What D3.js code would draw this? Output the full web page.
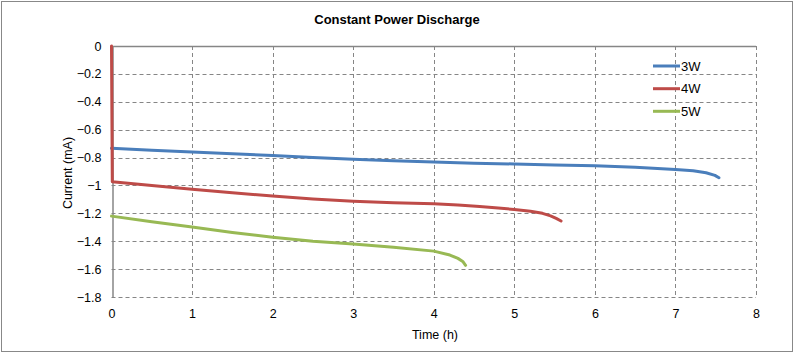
<!DOCTYPE html>
<html>
<head>
<meta charset="utf-8">
<script src="https://cdn.jsdelivr.net/npm/d3@7/dist/d3.min.js"></script>
<style>
  html, body { margin: 0; padding: 0; background: #fff; }
  svg { display: block; font-family: "Liberation Sans", Arial, sans-serif; }
</style>
</head>
<body>
<svg id="chart" width="795" height="355"></svg>
<script>
const title = "Constant Power Discharge";
const xLabel = "Time (h)";
const yLabel = "Current (mA)";
const xTicks = [0, 1, 2, 3, 4, 5, 6, 7, 8];
const yTicks = [0, -0.2, -0.4, -0.6, -0.8, -1, -1.2, -1.4, -1.6, -1.8];
const seriesNames = ["3W", "4W", "5W"];
const seriesColors = ["#4A7EBB", "#BE4B48", "#98B954"];

const time3W = [0, 0.5, 1, 1.5, 2, 2.5, 3, 3.5, 4, 4.5, 5, 5.5, 6, 6.5, 7, 7.22, 7.38, 7.49, 7.54];
const current3W = [-0.734, -0.747, -0.760, -0.773, -0.785, -0.800, -0.813, -0.823, -0.832, -0.841, -0.846, -0.853, -0.858, -0.870, -0.885, -0.894, -0.909, -0.928, -0.945];

const time4W = [0, 0.01, 0.5, 1, 1.5, 2, 2.5, 3, 3.5, 4, 4.3, 4.57, 4.8, 5, 5.2, 5.35, 5.45, 5.52, 5.58];
const current4W = [0, -0.973, -1.0, -1.028, -1.053, -1.076, -1.098, -1.114, -1.124, -1.132, -1.140, -1.151, -1.162, -1.172, -1.185, -1.200, -1.218, -1.236, -1.255];

const time5W = [0, 0.5, 1, 1.5, 2, 2.5, 3, 3.5, 4, 4.2, 4.3, 4.36, 4.395];
const current5W = [-1.22, -1.26, -1.298, -1.337, -1.372, -1.401, -1.420, -1.444, -1.471, -1.499, -1.523, -1.545, -1.573];

const seriesTimes = [time3W, time4W, time5W];
const seriesValues = [current3W, current4W, current5W];

(function () {
const svg = d3.select("#chart");
const W = 795, H = 355;
const pLeft = 111.5, pRight = 756, pTop = 46, pBottom = 297;
const gridColor = "#868686";

// outer border
svg.append("rect").attr("x", 1.5).attr("y", 1.5).attr("width", W - 4).attr("height", H - 5)
  .attr("fill", "#fff").attr("stroke", "#888").attr("stroke-width", 1);

const x = d3.scaleLinear().domain([0, 8]).range([pLeft, pRight]);
const y = d3.scaleLinear().domain([0, -1.8]).range([pTop, pBottom]);

// gridlines
const grid = svg.append("g");
grid.selectAll("line.h").data(yTicks.filter(v => v !== 0)).join("line")
  .attr("class", "h")
  .attr("x1", pLeft).attr("x2", pRight)
  .attr("y1", d => Math.round(y(d)) + 0.5).attr("y2", d => Math.round(y(d)) + 0.5)
  .attr("stroke", gridColor).attr("stroke-dasharray", "4,3");
grid.selectAll("line.v").data(xTicks.filter(v => v !== 0)).join("line")
  .attr("class", "v")
  .attr("y1", pTop).attr("y2", pBottom)
  .attr("x1", d => Math.round(x(d)) + 0.5).attr("x2", d => Math.round(x(d)) + 0.5)
  .attr("stroke", gridColor).attr("stroke-dasharray", "4,3");

// y axis at left
const yAxis = d3.axisLeft(y).tickValues(yTicks).tickSize(0).tickPadding(11)
  .tickFormat(d => d3.format("")(+d.toFixed(1)));
const gy = svg.append("g").attr("transform", `translate(${Math.round(pLeft) + 0.5},0)`).call(yAxis);
gy.select(".domain").attr("stroke", gridColor).attr("stroke-width", 1.5);
gy.selectAll("text").attr("font-size", "12.5px").attr("fill", "#000")
  .attr("font-family", "Liberation Sans, Arial, sans-serif");

// x axis line crosses at y=0 (top)
svg.append("line").attr("x1", pLeft).attr("x2", pRight)
  .attr("y1", Math.round(y(0)) + 0.5).attr("y2", Math.round(y(0)) + 0.5)
  .attr("stroke", gridColor).attr("stroke-width", 1.5);

// x tick labels at bottom
const xAxis = d3.axisBottom(x).tickValues(xTicks).tickSize(0).tickPadding(12);
const gx = svg.append("g").attr("transform", `translate(0,${pBottom})`).call(xAxis);
gx.select(".domain").remove();
gx.selectAll("text").attr("font-size", "12.5px").attr("fill", "#000")
  .attr("font-family", "Liberation Sans, Arial, sans-serif");

// series lines
const line = d3.line().x(d => x(d[0])).y(d => y(d[1]));
seriesNames.forEach((name, i) => {
  const pts = seriesTimes[i].map((t, j) => [t, seriesValues[i][j]]);
  svg.append("path").datum(pts)
    .attr("d", line)
    .attr("fill", "none")
    .attr("stroke", seriesColors[i])
    .attr("stroke-width", 3)
    .attr("stroke-linejoin", "round")
    .attr("stroke-linecap", "round");
});

// title
svg.append("text").attr("x", 397).attr("y", 24).attr("text-anchor", "middle")
  .attr("font-size", "13px").attr("font-weight", "bold").attr("fill", "#000").text(title);

// axis labels
svg.append("text").attr("x", 435).attr("y", 339).attr("text-anchor", "middle")
  .attr("font-size", "12.5px").attr("fill", "#000").text(xLabel);
svg.append("text").attr("transform", "translate(72,173) rotate(-90)").attr("text-anchor", "middle")
  .attr("font-size", "12.5px").attr("fill", "#000").text(yLabel);

// legend
const legendY = [66, 88.7, 111.3];
const lg = svg.append("g");
seriesNames.forEach((name, i) => {
  lg.append("line").attr("x1", 653).attr("x2", 680)
    .attr("y1", legendY[i]).attr("y2", legendY[i])
    .attr("stroke", seriesColors[i]).attr("stroke-width", 3);
  lg.append("text").attr("x", 681).attr("y", legendY[i] + 4.5)
    .attr("font-size", "13px").attr("fill", "#000").text(name);
});
})();
</script>
</body>
</html>
